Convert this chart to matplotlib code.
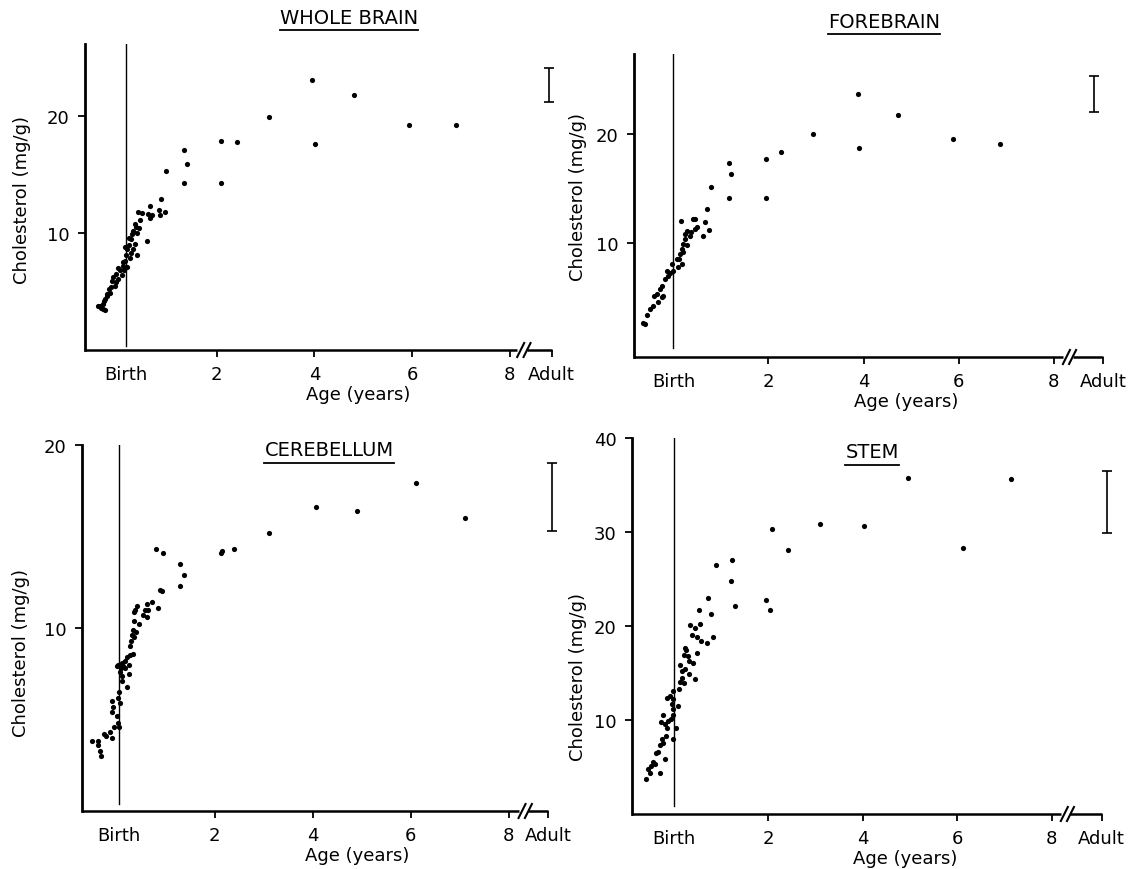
import matplotlib
matplotlib.use("Agg")
import matplotlib.pyplot as plt
from matplotlib.lines import Line2D

plt.rcParams['font.family'] = ['DejaVu Sans']

W, H = 1134, 870

titles = ["WHOLE BRAIN", "FOREBRAIN", "CEREBELLUM", "STEM"]

# whole brain: age (years, birth = 0) and cholesterol (mg/g)
wb_age = [0.97, 1.33, 1.39, 1.33, 2.10, 2.42, 2.10, 3.08, 3.95, 4.02, 4.81, 5.93, 6.89,
          0.86, 0.83, 0.94, 0.84, 0.64, 0.60, 0.64, 0.67, 0.40, 0.47, 0.43, 0.33, 0.42,
          0.30, 0.38, 0.57, 0.26, 0.33, 0.30, 0.38, 0.26, 0.23, 0.16, 0.14, 0.12, 0.08,
          0.16, 0.02, -0.05, -0.01, -0.11, -0.08, -0.15, -0.18, -0.24, -0.28, -0.32,
          -0.39, -0.42, -0.33, -0.28, -0.25, -0.05, 0.06, 0.11, 0.12, 0.20, 0.22, 0.35,
          0.28, 0.09, -0.02, -0.13, -0.20, -0.30, -0.36]
wb_chol = [15.3, 17.1, 15.9, 14.3, 17.9, 17.8, 14.3, 19.9, 23.1, 17.6, 21.8, 19.2, 19.2,
           12.9, 12.0, 11.8, 11.5, 12.3, 11.6, 11.3, 11.5, 11.8, 11.7, 11.1, 10.8, 10.4,
           10.2, 10.0, 9.3, 9.5, 9.1, 8.6, 8.1, 8.3, 7.9, 8.6, 8.1, 7.6, 7.2,
           7.1, 6.8, 6.5, 6.1, 6.2, 5.5, 5.4, 4.9, 4.6, 4.4, 3.9,
           3.8, 3.8, 3.5, 3.4, 4.8, 5.8, 6.4, 6.8, 8.8, 9.0, 9.6, 10.5,
           9.9, 7.5, 7.0, 5.9, 5.2, 4.2, 3.6]

fb_age = [3.89, 4.72, 2.94, 5.88, 6.87, 3.91, 2.27, 1.95, 1.17, 1.22, 0.79, 1.16, 1.95, 0.71,
          0.16, 0.42, 0.46, 0.66, 0.74, 0.63, 0.49, 0.46, 0.38, 0.29, 0.35, 0.24, 0.21,
          0.17, 0.14, 0.12, 0.17, 0.10, 0.00, -0.07, -0.11, -0.18, -0.25, -0.28, -0.35,
          -0.41, -0.21, -0.32, -0.44, -0.49, -0.56, -0.60, -0.64, -0.14, -0.04, 0.07,
          0.21, 0.28, 0.24, -0.25]
fb_chol = [23.6, 21.7, 20.0, 19.5, 19.1, 18.7, 18.3, 17.7, 17.3, 16.3, 15.1, 14.1, 14.1, 13.1,
           12.0, 12.2, 12.2, 11.9, 11.2, 10.7, 11.5, 11.3, 11.0, 11.1, 10.7, 10.4, 9.9,
           9.5, 9.0, 8.6, 8.1, 7.8, 7.5, 7.3, 7.0, 6.7, 6.1, 5.8, 5.4,
           5.2, 5.2, 4.6, 4.3, 4.0, 3.4, 2.6, 2.7, 7.5, 8.1, 8.6,
           9.2, 9.8, 10.8, 5.1]

cb_age = [6.10, 4.06, 4.91, 7.10, 3.10, 2.39, 2.13, 2.15, 0.81, 0.94, 1.30, 1.37, 1.30,
          0.88, 0.93, 0.85, 0.71, 0.61, 0.58, 0.64, 0.54, 0.61, 0.41, 0.37, 0.36, 0.36,
          0.34, 0.39, 0.36, 0.30, 0.27, 0.34, 0.27, 0.20, 0.17, 0.10, 0.03, 0.13, 0.24,
          0.09, 0.17, 0.10, 0.24, 0.20, 0.10, 0.05, 0.03, 0.06, -0.09, -0.07, -0.10,
          0.00, 0.03, 0.05, -0.05, -0.14, -0.10, -0.21, -0.27, -0.39, -0.50, -0.34,
          -0.32, -0.38, 0.45, 0.31, 0.07, 0.00]
cb_chol = [17.9, 16.6, 16.4, 16.0, 15.2, 14.3, 14.1, 14.2, 14.3, 14.1, 13.5, 12.9, 12.3,
           12.1, 12.0, 11.1, 11.4, 11.3, 11.0, 11.0, 10.7, 10.6, 11.2, 11.0, 10.9, 10.4,
           9.9, 9.8, 9.5, 9.3, 9.0, 8.6, 8.5, 8.4, 8.2, 8.1, 8.0, 7.9, 8.0,
           7.8, 7.8, 7.4, 7.5, 6.8, 7.1, 6.5, 6.2, 5.9, 6.0, 5.7, 5.4,
           5.2, 4.8, 4.6, 4.6, 4.3, 4.0, 4.1, 4.2, 3.8, 3.8, 3.3,
           3.0, 3.6, 10.2, 9.6, 7.6, 7.9]

st_age = [4.96, 7.14, 3.10, 4.02, 2.07, 6.12, 2.42, 1.22, 0.89, 1.21, 0.71, 1.95, 1.30,
          2.03, 0.53, 0.78, 0.34, 0.54, 0.44, 0.39, 0.48, 0.58, 0.70, 0.83, 0.23, 0.26,
          0.20, 0.30, 0.32, 0.41, 0.48, 0.13, 0.16, 0.23, 0.32, 0.44, 0.16, 0.13, 0.20,
          0.11, -0.03, -0.09, -0.14, -0.02, -0.05, 0.09, -0.03, -0.02, -0.07, 0.05,
          -0.23, -0.28, -0.19, -0.16, -0.12, -0.26, -0.23, -0.30, -0.17, -0.02, -0.33,
          -0.38, -0.19, -0.44, -0.48, -0.55, -0.51, -0.60, -0.30, -0.40]
st_chol = [35.7, 35.6, 30.8, 30.6, 30.3, 28.3, 28.1, 27.0, 26.5, 24.8, 23.0, 22.8, 22.1,
           21.7, 21.7, 21.3, 20.1, 20.2, 19.8, 19.0, 18.8, 18.4, 18.2, 18.8, 17.7, 17.4,
           16.9, 16.8, 16.3, 16.1, 17.1, 15.8, 15.2, 15.4, 14.9, 14.4, 14.5, 14.0, 13.9,
           13.3, 13.1, 12.6, 12.3, 12.2, 11.7, 11.5, 11.2, 10.5, 10.1, 9.1,
           10.5, 9.8, 9.6, 9.2, 9.9, 8.0, 7.6, 7.3, 8.3, 8.0, 6.6,
           6.5, 5.8, 5.5, 5.1, 4.8, 4.4, 3.7, 4.4, 5.3]

ages = [wb_age, fb_age, cb_age, st_age]
chols = [wb_chol, fb_chol, cb_chol, st_chol]

# adult range bars (mg/g)
adult_lo = [21.2, 22.0, 15.3, 29.9]
adult_hi = [24.1, 25.3, 19.0, 36.5]
adult_x = [8.8, 8.85, 8.88, 9.18]
birth_x = [0.14, 0.0, 0.05, 0.0]
yticks = [[10, 20], [10, 20], [10, 20], [10, 20, 30, 40]]
xticks = [2, 4, 6, 8]

# axes boxes in pixels: left, bottom(from top), width, height
boxes = [(85, 351, 466.5, 306.5), (634, 358, 469, 303),
         (81.5, 812, 466.5, 366), (631.6, 815, 470, 376)]
xlims = [(-0.69, 8.85), (-0.83, 9.04), (-0.72, 8.8), (-0.9, 9.06)]
ylims = [(0, 26.2), (-0.4, 27.3), (0, 20), (0, 40)]
break_at = [8.15, 8.2, 8.2, 8.2]
birth_bottom = [0.3, 0.4, 0.4, 0.8]
ylabel_y = [12.9, 14.3, 8.7, 14.7]
ylabel_off = [63, 56, 60, 54]
title_pos = [(349, 18), (884, 22), (329, 451), (872, 453)]

fig = plt.figure(figsize=(W / 100, H / 100), dpi=100)
fs = 13
titles_txt = []

for i in range(4):
    l, b, w, h = boxes[i]
    ax = fig.add_axes([l / W, 1 - b / H, w / W, h / H])
    ax.set_xlim(*xlims[i])
    ax.set_ylim(*ylims[i])
    ppx = w / (xlims[i][1] - xlims[i][0])
    ppy = h / (ylims[i][1] - ylims[i][0])

    ax.scatter(ages[i], chols[i], s=14, c='black', linewidths=0, clip_on=False, zorder=3)
    ax.plot([birth_x[i], birth_x[i]], [birth_bottom[i], ylims[i][1]], color='black', lw=1.0)

    eb = ax.errorbar(adult_x[i], (adult_lo[i] + adult_hi[i]) / 2,
                     yerr=(adult_hi[i] - adult_lo[i]) / 2, fmt='none', ecolor='black',
                     elinewidth=1.2, capsize=3.5, capthick=1.2)
    for c in eb.get_children():
        c.set_clip_on(False)

    for s in ['top', 'right', 'bottom']:
        ax.spines[s].set_visible(False)
    ax.spines['left'].set_linewidth(2.0)

    # broken x axis
    x0, x1 = xlims[i]
    y0 = ylims[i][0]
    bk = break_at[i]
    dx, dy = 3.5 / ppx, 7 / ppy
    ax.plot([x0, bk], [y0, y0], color='black', lw=1.8, clip_on=False, solid_capstyle='butt')
    ax.plot([bk + 0.2, x1], [y0, y0], color='black', lw=1.8, clip_on=False, solid_capstyle='butt')
    for sx in [bk + 0.07, bk + 0.2]:
        ax.plot([sx - dx, sx + dx], [y0 - dy, y0 + dy], color='black', lw=1.5, clip_on=False)

    ax.set_xticks([birth_x[i]] + xticks + [x1])
    ax.set_xticklabels(['Birth'] + [str(t) for t in xticks] + ['Adult'])
    ax.xaxis.get_major_ticks()[0].tick1line.set_visible(False)
    ax.set_yticks(yticks[i])
    ax.tick_params(direction='out', length=5, width=1.3, labelsize=fs, pad=6)

    ax.annotate('Age (years)', xy=(4.9, 0), xycoords=('data', 'axes fraction'),
                xytext=(0, -44 * 0.72), textcoords='offset points',
                ha='center', va='center', fontsize=fs)
    ax.annotate('Cholesterol (mg/g)', xy=(0, ylabel_y[i]), xycoords=('axes fraction', 'data'),
                xytext=(-ylabel_off[i] * 0.72, 0), textcoords='offset points',
                ha='center', va='center', rotation=90, fontsize=fs)

    tx, ty = title_pos[i]
    t = fig.text(tx / W, 1 - ty / H, titles[i], ha='center', va='center', fontsize=14)
    titles_txt.append(t)

fig.canvas.draw()
r = fig.canvas.get_renderer()
for t in titles_txt:
    bb = t.get_window_extent(renderer=r)
    yy = (bb.y0 - 3) / H
    fig.add_artist(Line2D([bb.x0 / W, bb.x1 / W], [yy, yy], transform=fig.transFigure,
                          color='black', lw=1.3))

fig.savefig("out.png", dpi=100)
plt.close(fig)
